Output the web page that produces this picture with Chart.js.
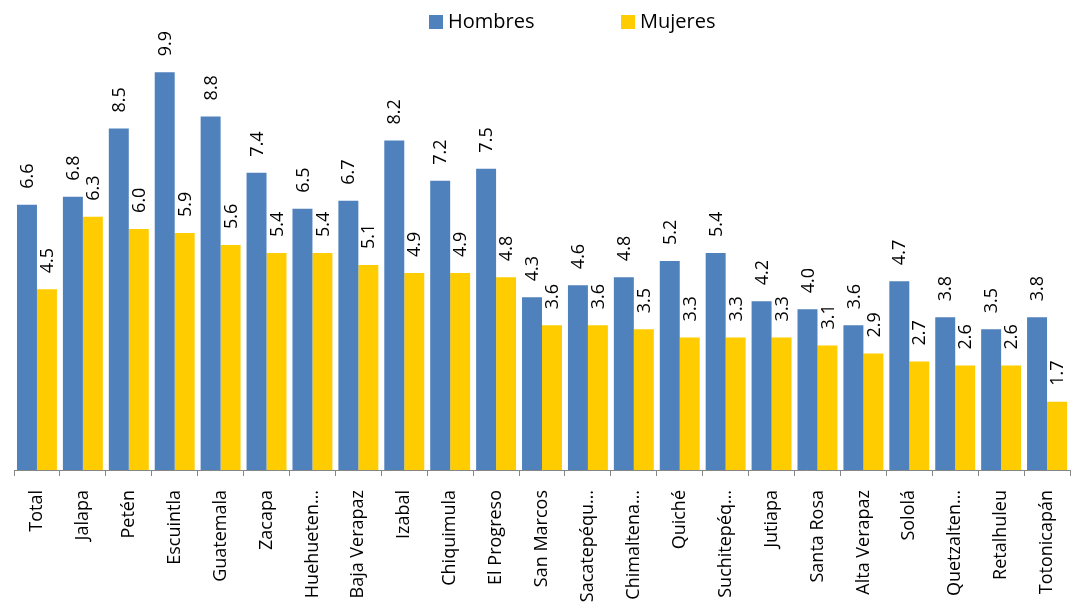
<!DOCTYPE html>
<html>
<head>
<meta charset="utf-8">
<script src="https://cdn.jsdelivr.net/npm/chart.js@4"></script>
<style>
  html, body { margin: 0; padding: 0; background: #fff; }
  #wrap { width: 1078px; height: 613px; }
</style>
</head>
<body>
<div id="wrap"><canvas id="chart"></canvas></div>
<script>
//<![CDATA[

let departamentos = ['Total', 'Jalapa', 'Petén', 'Escuintla', 'Guatemala', 'Zacapa', 'Huehueten…', 'Baja Verapaz', 'Izabal', 'Chiquimula', 'El Progreso', 'San Marcos', 'Sacatepéqu…', 'Chimaltena…', 'Quiché', 'Suchitepéq…', 'Jutiapa', 'Santa Rosa', 'Alta Verapaz', 'Sololá', 'Quetzalten…', 'Retalhuleu', 'Totonicapán'];
let hombres = [6.6, 6.8, 8.5, 9.9, 8.8, 7.4, 6.5, 6.7, 8.2, 7.2, 7.5, 4.3, 4.6, 4.8, 5.2, 5.4, 4.2, 4.0, 3.6, 4.7, 3.8, 3.5, 3.8];
let mujeres = [4.5, 6.3, 6.0, 5.9, 5.6, 5.4, 5.4, 5.1, 4.9, 4.9, 4.8, 3.6, 3.6, 3.5, 3.3, 3.3, 3.3, 3.1, 2.9, 2.7, 2.6, 2.6, 1.7];
let seriesNames = ['Hombres', 'Mujeres'];

const FONT = '"Open Sans", sans-serif';

// value labels on top of bars (rotated) + legend drawn by hand
const labelPlugin = {
    id: 'barLabels',
    afterDatasetsDraw(chart) {
        const ctx = chart.ctx;
        ctx.save();
        ctx.fillStyle = '#000';
        ctx.font = '18px ' + FONT;
        ctx.textAlign = 'left';
        ctx.textBaseline = 'middle';
        chart.data.datasets.forEach((ds, di) => {
            chart.getDatasetMeta(di).data.forEach((bar, i) => {
                ctx.save();
                ctx.translate(bar.x, bar.y - 16);
                ctx.rotate(-Math.PI / 2);
                ctx.fillText(ds.data[i].toFixed(1), 0, 1);
                ctx.restore();
            });
        });

        // legend
        ctx.font = '20px ' + FONT;
        ctx.textBaseline = 'middle';
        const items = [[429, chart.data.datasets[0]], [621, chart.data.datasets[1]]];
        items.forEach(([x, ds]) => {
            ctx.fillStyle = ds.backgroundColor;
            ctx.fillRect(x, 15, 14, 14);
            ctx.fillStyle = '#000';
            ctx.fillText(ds.label, x + 19, 22);
        });
        ctx.restore();
    }
};

const ctx = document.getElementById('chart');
const myChart = new Chart(ctx, {
    type: 'bar',
    data: {
        labels: departamentos,
        datasets: [
            {
                label: seriesNames[0],
                data: hombres,
                backgroundColor: '#4F81BD',
                barPercentage: 1,
                categoryPercentage: 0.87
            },
            {
                label: seriesNames[1],
                data: mujeres,
                backgroundColor: '#FFCC00',
                barPercentage: 1,
                categoryPercentage: 0.87
            }
        ]
    },
    options: {
        responsive: true,
        maintainAspectRatio: false,
        animation: false,
        layout: {
            padding: { top: 28, left: 14, right: 8, bottom: 0 }
        },
        plugins: {
            legend: { display: false },
            tooltip: { enabled: false }
        },
        scales: {
            x: {
                grid: {
                    display: true,
                    drawOnChartArea: false,
                    offset: true,
                    tickLength: 6,
                    color: '#868686'
                },
                border: { display: true, color: '#868686' },
                ticks: {
                    minRotation: 90,
                    maxRotation: 90,
                    autoSkip: false,
                    padding: 14,
                    color: '#000',
                    font: { family: FONT, size: 18 }
                },
                afterFit(scale) {
                    scale.height = 143;
                    scale.paddingLeft = 0;
                    scale.paddingRight = 0;
                }
            },
            y: {
                display: false,
                min: 0,
                max: 11
            }
        }
    },
    plugins: [labelPlugin]
});

// ]]>
</script>
</body>
</html>
